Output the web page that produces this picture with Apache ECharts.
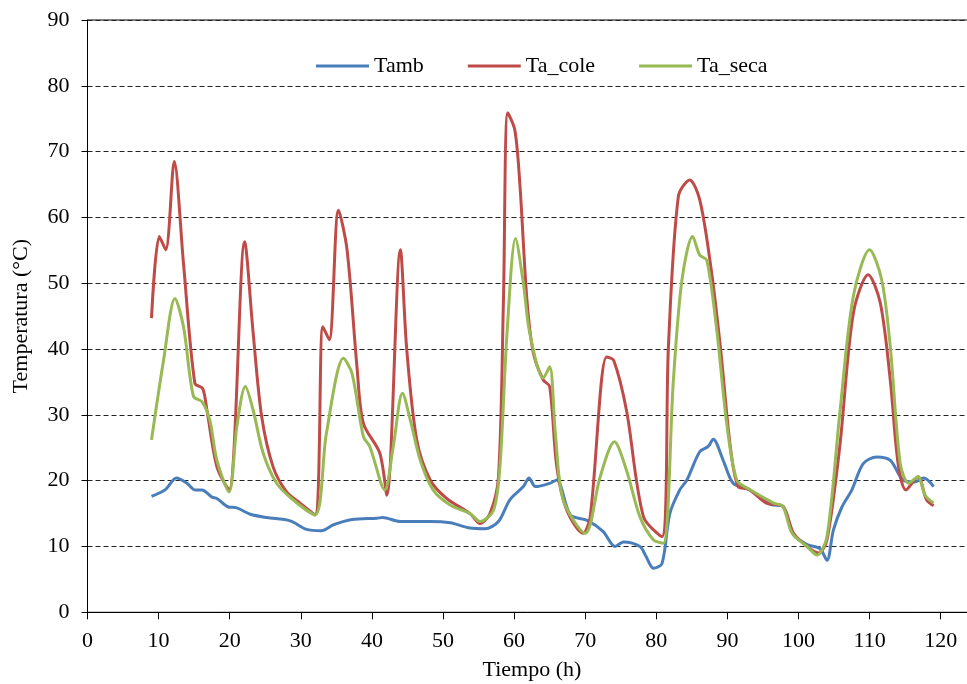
<!DOCTYPE html>
<html>
<head>
<meta charset="utf-8">
<script src="https://cdn.jsdelivr.net/npm/echarts@6/dist/echarts.min.js"></script>
<style>html,body{margin:0;padding:0;background:#fff}#c{width:967px;height:684px}</style>
</head>
<body>
<div id="c"></div>
<script>
// Tamb
var tambTime = [9.0,10.9,12.5,14.0,15.1,16.1,17.5,18.2,19.8,20.9,22.9,25.2,28.5,30.8,32.9,34.6,37.2,40.7,41.5,44.0,48.2,51.0,53.8,55.9,57.8,59.4,61.3,62.1,63.0,65.0,66.0,67.9,70.2,72.5,74.2,75.4,77.7,78.5,79.6,80.8,81.9,83.3,84.3,86.1,87.3,88.0,89.4,90.8,92.9,96.1,97.8,99.3,101.2,103.0,104.0,104.9,106.1,107.5,109.1,111.0,112.9,114.7,116.3,117.6,119.0];
var tambVal  = [17.6,18.6,20.4,19.6,18.6,18.6,17.5,17.3,16.0,15.9,14.9,14.4,13.9,12.6,12.4,13.3,14.1,14.3,14.4,13.8,13.8,13.6,12.8,12.7,13.8,17.1,19.1,20.4,19.1,19.6,20.1,14.8,14.0,12.3,10.0,10.7,10.0,8.6,6.7,7.4,15.0,18.6,20.1,24.4,25.2,26.3,23.1,19.6,18.7,16.4,16.1,11.8,10.3,9.7,7.9,12.5,16.0,18.6,22.6,23.6,23.1,20.1,19.8,20.4,19.1];
// Ta_cole
var coleTime = [9.0,10.1,11.0,12.2,13.5,15.1,16.2,16.8,18.2,19.9,22.1,23.3,24.5,26.1,28.0,29.9,32.0,33.1,34.0,35.3,36.5,37.9,38.8,41.1,42.1,44.0,44.9,46.3,48.2,50.5,53.8,55.2,56.6,57.8,58.5,59.1,60.1,60.8,61.8,62.7,64.1,65.0,66.0,67.4,69.7,70.7,73.0,74.0,75.8,78.2,80.8,81.7,83.1,84.7,86.1,87.6,89.0,90.4,91.5,93.0,95.5,97.8,99.3,101.2,102.8,104.0,105.8,107.7,109.8,111.5,112.9,114.0,115.1,116.8,118.0,119.0];
var coleVal  = [44.7,57.1,55.1,68.5,53.0,34.8,34.0,30.7,22.1,18.6,56.3,42.4,29.7,22.1,18.3,16.6,14.8,43.4,41.4,61.1,55.1,37.3,28.7,24.2,17.8,55.1,39.9,26.2,20.1,17.3,15.0,13.5,15.0,20.6,47.5,75.9,73.3,65.2,47.5,39.4,35.3,34.3,22.1,15.5,12.0,14.5,38.8,38.3,30.7,14.5,11.5,40.4,63.2,65.7,62.7,53.0,40.4,25.2,19.1,18.7,16.6,16.1,12.0,10.0,9.0,11.0,25.2,45.4,51.3,47.0,35.3,22.6,18.6,20.6,17.1,16.2];
// Ta_seca
var secaTime = [9.0,10.7,12.3,13.5,14.9,16.1,17.2,18.2,19.9,21.0,22.2,23.3,24.7,26.6,28.9,32.0,33.6,36.0,37.2,38.8,39.7,41.8,43.0,44.3,45.4,46.8,48.6,51.0,53.8,55.2,57.1,58.0,59.0,60.2,61.3,62.2,64.1,65.0,65.8,66.9,70.0,72.1,74.1,75.8,77.7,79.6,81.0,82.4,83.6,85.1,86.1,87.1,88.5,89.9,91.3,92.9,96.5,97.8,99.1,101.2,102.6,104.0,105.8,107.7,110.0,111.7,112.9,114.3,115.5,116.8,117.8,119.0];
var secaVal  = [26.2,38.3,47.7,43.4,32.8,32.0,29.2,23.1,18.3,28.2,34.3,30.7,24.2,19.6,17.1,14.8,27.2,38.6,36.3,26.7,25.2,18.6,25.2,33.3,29.2,23.1,18.6,16.3,15.0,13.8,15.5,22.1,42.4,56.8,50.0,42.4,35.6,37.3,27.2,17.1,12.0,20.6,25.9,21.6,14.5,11.0,10.5,35.3,50.5,57.1,54.3,53.5,42.9,28.7,20.1,18.8,16.6,16.1,12.0,10.0,8.7,11.5,30.2,48.0,55.1,50.5,40.4,22.6,19.6,20.6,17.8,16.6];

var seriesNames = ['Tamb','Ta_cole','Ta_seca'];
var xTicks = [0,10,20,30,40,50,60,70,80,90,100,110,120];
var yTicks = [0,10,20,30,40,50,60,70,80,90];

function pairs(t, v){ return t.map(function(x,i){ return [x, v[i]]; }); }

var FONT = 'Liberation Serif';
var chart = echarts.init(document.getElementById('c'), null, {renderer:'canvas'});
chart.setOption({
  animation: false,
  backgroundColor: '#fff',
  textStyle: {fontFamily: FONT},
  grid: {left: 87.5, top: 20, right: -9.3, bottom: 71.7, outerBoundsMode: 'none', containLabel: false,
         show: true, borderColor: '#000', borderWidth: 1, backgroundColor: 'transparent'},
  legend: {
    data: seriesNames, left: 311, top: 50, icon: 'rect', itemWidth: 53, itemHeight: 3, itemGap: 44,
    textStyle: {fontFamily: FONT, fontSize: 22, color: '#000'}
  },
  xAxis: {
    type: 'value', min: 0, max: 125, interval: 10,
    name: 'Tiempo (h)', nameLocation: 'middle', nameGap: 47,
    nameTextStyle: {fontFamily: FONT, fontSize: 22, color: '#000'},
    axisLine: {show: true, lineStyle: {color: '#000', width: 1}},
    axisTick: {show: true, inside: false, length: 7, lineStyle: {color: '#000'}, customValues: xTicks},
    axisLabel: {margin: 18, fontFamily: FONT, fontSize: 22, color: '#000', customValues: xTicks,
      formatter: function(v){ return xTicks.indexOf(v) >= 0 ? String(v) : ''; }},
    splitLine: {show: false}
  },
  yAxis: {
    type: 'value', min: 0, max: 90, interval: 10,
    name: 'Temperatura (°C)', nameLocation: 'middle', nameGap: 55,
    nameTextStyle: {fontFamily: FONT, fontSize: 22, color: '#000'},
    axisLine: {show: true, lineStyle: {color: '#000', width: 1}},
    axisTick: {show: true, inside: false, length: 6, lineStyle: {color: '#000'}},
    axisLabel: {margin: 18, fontFamily: FONT, fontSize: 22, color: '#000',
      formatter: function(v){ return yTicks.indexOf(v) >= 0 ? String(v) : ''; }},
    splitLine: {show: true, lineStyle: {color: '#222', width: 1.2, type: [5,3]}}
  },
  series: [
    {name: 'Tamb', type: 'line', data: pairs(tambTime, tambVal), smooth: 0.3, showSymbol: false, symbol: 'none',
     lineStyle: {color: '#4A7EBB', width: 3}, itemStyle: {color: '#4A7EBB'}},
    {name: 'Ta_cole', type: 'line', data: pairs(coleTime, coleVal), smooth: 0.3, showSymbol: false, symbol: 'none',
     lineStyle: {color: '#BE4B48', width: 3}, itemStyle: {color: '#BE4B48'}},
    {name: 'Ta_seca', type: 'line', data: pairs(secaTime, secaVal), smooth: 0.3, showSymbol: false, symbol: 'none',
     lineStyle: {color: '#98B954', width: 3}, itemStyle: {color: '#98B954'}}
  ]
});
</script>
</body>
</html>
